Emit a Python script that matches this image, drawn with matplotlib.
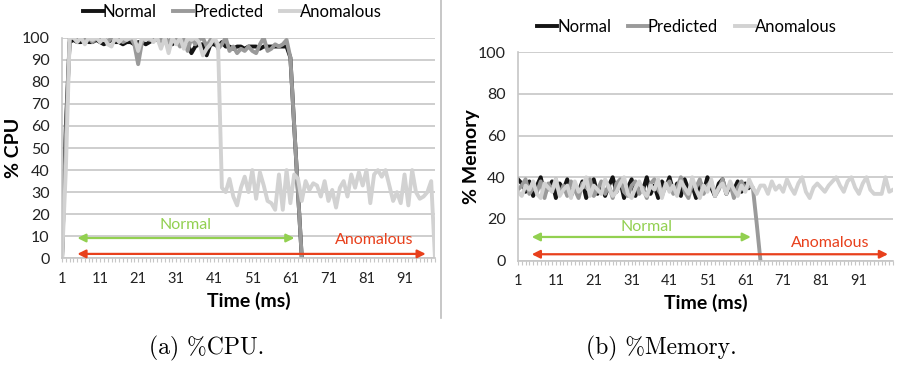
import numpy as np
import matplotlib
matplotlib.use('Agg')
import matplotlib.pyplot as plt
from matplotlib.lines import Line2D

plt.rcParams['font.family'] = ['Lato', 'DejaVu Sans']

# ---- data ----
cpu_normal = [0, 60, 98, 99, 98, 98, 99, 98, 98, 99, 98, 97, 98, 99, 98, 98, 97, 98, 98, 97,
              98, 98, 97, 98, 99, 99, 98, 99, 98, 97, 99, 98, 96, 97, 93, 96, 97, 97, 92, 97,
              97, 96, 98, 96, 96, 95, 96, 96, 95, 96, 96, 96, 95, 96, 96, 96, 96, 96, 96, 96,
              91, 60, 30, 0]
cpu_predicted = [0, 55, 100, 100, 99, 100, 99, 100, 98, 100, 99, 100, 98, 100, 99, 100, 98, 99, 100, 97,
                 88, 98, 100, 99, 100, 100, 99, 100, 98, 100, 99, 96, 100, 94, 100, 97, 99, 100, 96, 99,
                 100, 95, 97, 100, 94, 96, 93, 95, 94, 96, 94, 93, 97, 100, 94, 95, 97, 96, 97, 99,
                 91, 60, 30, 0]
cpu_anomalous = [0, 40, 100, 100, 98, 100, 97, 100, 99, 100, 98, 100, 97, 96, 100, 98, 100, 99, 100, 100,
                 94, 100, 99, 100, 98, 100, 95, 100, 93, 100, 97, 100, 95, 100, 99, 100, 98, 92, 95, 97,
                 100, 97, 32, 30, 36, 28, 24, 32, 37, 30, 40, 27, 39, 33, 26, 25, 22, 38, 22, 40,
                 25, 38, 36, 26, 35, 31, 34, 33, 28, 35, 26, 31, 23, 32, 35, 28, 38, 32, 39, 33,
                 40, 25, 38, 40, 37, 40, 33, 26, 30, 25, 38, 24, 40, 30, 27, 28, 30, 35, 0]

mem_normal = [39, 37, 33, 38, 31, 36, 40, 32, 35, 38, 30, 37, 34, 39, 31, 36, 33, 38, 30, 35,
              39, 32, 37, 31, 36, 40, 33, 38, 30, 35, 39, 31, 37, 34, 40, 32, 36, 30, 38, 35,
              40, 33, 37, 31, 39, 34, 36, 30, 38, 33, 40, 35, 31, 37, 39, 32, 36, 34, 38, 33,
              37, 35]
mem_predicted = [34, 36, 39, 32, 35, 33, 38, 30, 37, 34, 39, 32, 36, 31, 38, 34, 30, 37, 35, 39,
                 31, 34, 38, 32, 36, 30, 37, 39, 33, 31, 36, 38, 32, 35, 30, 37, 39, 34, 31, 36,
                 38, 32, 35, 40, 33, 30, 37, 35, 39, 32, 36, 38, 31, 34, 39, 33, 37, 30, 35, 38,
                 34, 36, 35, 18, 0]
mem_anomalous = [33, 31, 36, 34, 38, 32, 30, 37, 35, 33, 39, 31, 34, 36, 30, 38, 33, 35, 40, 31,
                 36, 34, 32, 39, 35, 31, 33, 37, 40, 32, 30, 35, 38, 33, 31, 36, 34, 39, 30, 37,
                 33, 36, 31, 38, 35, 32, 40, 34, 30, 36, 33, 39, 31, 35, 37, 32, 38, 34, 31, 36,
                 33, 39, 35, 32, 36, 36, 32, 38, 34, 36, 33, 39, 35, 32, 37, 40, 33, 30, 35, 37,
                 35, 33, 36, 38, 40, 36, 33, 38, 40, 35, 32, 37, 40, 34, 32, 32, 32, 40, 33, 34]

series_names = ['Normal', 'Predicted', 'Anomalous']
series_colors = ['#141414', '#9a9a9a', '#d2d2d2']

grid_c = '#c6c6c6'
red = '#e8401c'
green = '#92d050'

fig = plt.figure(figsize=(9.07, 3.65), dpi=100)
ax1 = fig.add_axes([0.0684, 0.2923, 0.4112, 0.6044])
ax2 = fig.add_axes([0.5711, 0.2863, 0.4135, 0.5704])


def style_axes(ax, n, ymax, ystep, ylabel, ylab_x):
    ax.set_xlim(1, n)
    ax.set_ylim(0, ymax)
    ax.set_yticks(np.arange(0, ymax + 1, ystep))
    ax.yaxis.grid(True, color=grid_c, lw=1.2)
    ax.set_axisbelow(True)
    for s in ['top', 'right']:
        ax.spines[s].set_visible(False)
    ax.spines['left'].set_color(grid_c)
    ax.spines['bottom'].set_color(grid_c)
    ax.spines['left'].set_linewidth(1.2)
    ax.spines['bottom'].set_linewidth(1.2)
    xt = np.arange(1, n + 1)
    ax.set_xticks(xt)
    ax.set_xticklabels([str(v) if (v - 1) % 10 == 0 else '' for v in xt])
    ax.tick_params(axis='x', length=3, color=grid_c, labelsize=10.5, pad=7, labelcolor='#222222')
    ax.tick_params(axis='y', length=0, labelsize=11.5, pad=9, labelcolor='#222222')
    ax.set_xlabel('Time (ms)', fontsize=14, fontweight='bold', labelpad=4)
    ax.set_ylabel(ylabel, fontsize=14, fontweight='bold')
    ax.yaxis.set_label_coords(ylab_x, 0.5)


def draw_series(ax, data):
    for vals, name, c in zip(data, series_names, series_colors):
        x = np.arange(1, len(vals) + 1)
        ax.plot(x, vals, color=c, lw=2.8, label=name, solid_joinstyle='round')


def arrows(ax, x0, x1g, x1r, yg, yr, tg, tr):
    ax.annotate('', xy=(x1g, yg), xytext=(x0, yg),
                arrowprops=dict(arrowstyle='<|-|>', color=green, lw=1.6, mutation_scale=12))
    ax.annotate('', xy=(x1r, yr), xytext=(x0, yr),
                arrowprops=dict(arrowstyle='<|-|>', color=red, lw=1.6, mutation_scale=12))
    ax.text(tg[0], tg[1], 'Normal', color=green, fontsize=11.5, ha='center', va='center')
    ax.text(tr[0], tr[1], 'Anomalous', color=red, fontsize=11.5, ha='center', va='center')


# CPU
draw_series(ax1, [cpu_normal, cpu_predicted, cpu_anomalous])
style_axes(ax1, 99, 100, 10, '% CPU', -0.108)
arrows(ax1, 4.3, 62.8, 97.3, 9.2, 2.0, (33.5, 15.2), (83, 8.2))
ax1.legend(loc='center', bbox_to_anchor=(0.457, 1.117), ncol=3, frameon=False,
           fontsize=12, handlelength=1.2, handletextpad=0.0, columnspacing=1.0)

# Memory
draw_series(ax2, [mem_normal, mem_predicted, mem_anomalous])
style_axes(ax2, 100, 100, 20, '% Memory', -0.102)
arrows(ax2, 3.9, 63.2, 99.4, 11.3, 3.0, (35, 16), (83.5, 8.5))
ax2.legend(loc='center', bbox_to_anchor=(0.45, 1.12), ncol=3, frameon=False,
           fontsize=12, handlelength=1.2, handletextpad=0.0, columnspacing=1.0)

# separator between panels
fig.add_artist(Line2D([441 / 907, 441 / 907], [1 - 318 / 365, 1.0], color='#bdbdbd', lw=1.2))

# captions
fig.text(207 / 907, 1 - 348 / 365, '(a) %CPU.', ha='center', va='center', fontsize=17,
         family=['cmr10', 'DejaVu Serif'])
fig.text(661 / 907, 1 - 348 / 365, '(b) %Memory.', ha='center', va='center', fontsize=17,
         family=['cmr10', 'DejaVu Serif'])

fig.savefig('out.png', dpi=100)
